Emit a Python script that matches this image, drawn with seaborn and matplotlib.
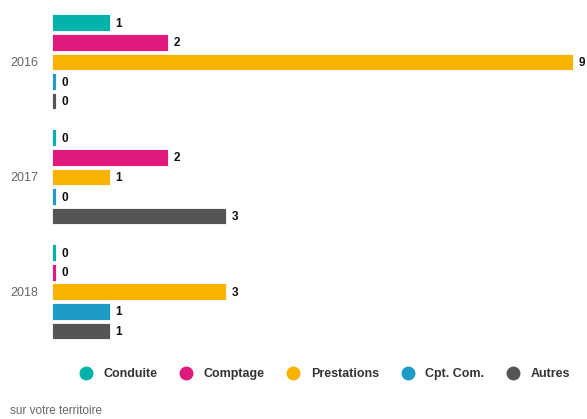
import pandas as pd
import matplotlib
matplotlib.use('Agg')
import matplotlib.pyplot as plt
import seaborn as sns
from matplotlib.lines import Line2D

years = ['2016', '2017', '2018']
categories = ['Conduite', 'Comptage', 'Prestations', 'Cpt. Com.', 'Autres']
conduite = [1, 0, 0]
comptage = [2, 2, 0]
prestations = [9, 1, 3]
cpt_com = [0, 0, 1]
autres = [0, 3, 1]
colors = ['#00b2a9', '#e0197d', '#f8b200', '#1f9bc8', '#555555']

series = [conduite, comptage, prestations, cpt_com, autres]
rows = []
for cat, vals in zip(categories, series):
    for y, v in zip(years, vals):
        rows.append({'Année': y, 'Type': cat, 'Valeur': v})
df = pd.DataFrame(rows)
# zero values are still shown as a thin stub
df['Affiche'] = df['Valeur'].clip(lower=0.07)

sns.set_style('white')
plt.rcParams['font.family'] = ['Liberation Sans', 'DejaVu Sans']

fig = plt.figure(figsize=(5.87, 4.19), dpi=100)
ax = fig.add_axes([52 / 587, 0.1665, (573 - 52) / 587, 0.823])

sns.barplot(data=df, y='Année', x='Affiche', hue='Type', hue_order=categories,
            order=years, palette=colors, saturation=1, orient='h', width=0.85,
            gap=0.15, edgecolor='white', linewidth=0.6, legend=False, ax=ax)

for cont, cat in zip(ax.containers, categories):
    sub = df[df['Type'] == cat].set_index('Année').loc[years]
    for bar, v in zip(cont, sub['Valeur']):
        ax.text(bar.get_width() + 0.1, bar.get_y() + bar.get_height() / 2 + 0.01,
                str(v), va='center', ha='left', fontsize=8.5,
                fontweight='bold', color='#111111', clip_on=False)

ax.set_xlim(0, 9)
ax.set_ylim(2.5, -0.5)
ax.set_xlabel('')
ax.set_ylabel('')
ax.set_xticks([])
ax.tick_params(axis='y', length=0, pad=10, labelsize=9, labelcolor='#666666')
sns.despine(ax=ax, left=True, bottom=True)

handles = [Line2D([0], [0], marker='o', linestyle='', markersize=9,
                  markerfacecolor=c, markeredgecolor=c) for c in colors]
fig.legend(handles, categories, loc='center', bbox_to_anchor=(0.548, 1 - 374 / 419),
           ncol=5, frameon=False, handletextpad=0.4, columnspacing=1.3,
           prop={'weight': 'bold', 'size': 9}, labelcolor='#333333')

fig.text(10 / 587, 1 - 411 / 419, 'sur votre territoire', fontsize=8.5,
         color='#666666', va='center', ha='left')

fig.savefig('out.png', dpi=100, facecolor='white')
